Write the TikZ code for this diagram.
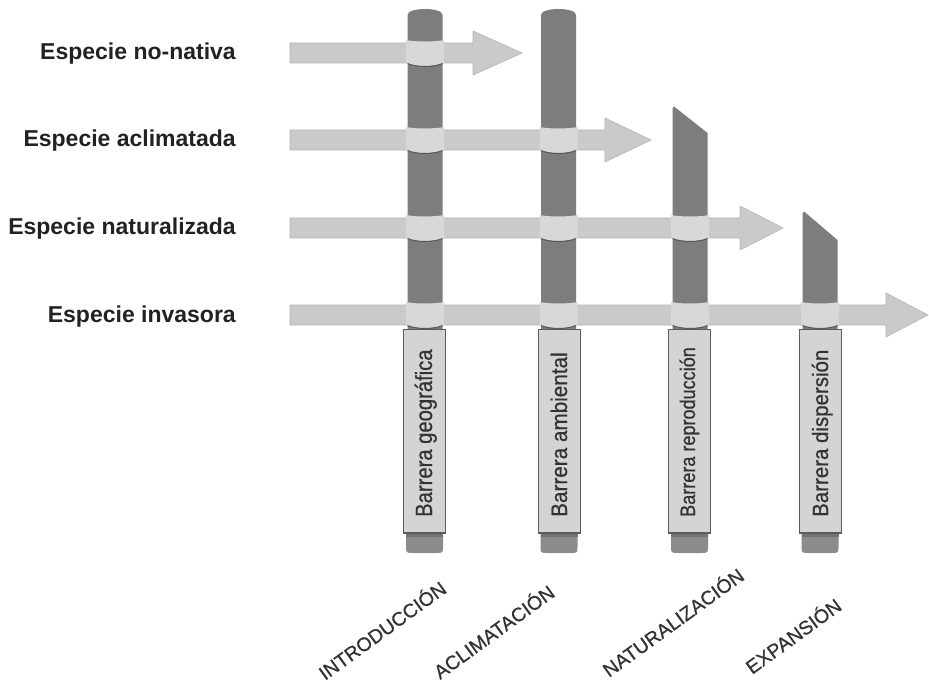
\documentclass[tikz,border=0pt]{standalone}
\usepackage{fontspec}
\setmainfont{Liberation Sans}
\newfontfamily\heavyreg[FakeBold=0.7]{Liberation Sans}
\definecolor{colc}{HTML}{7D7D7D}
\definecolor{shaftc}{HTML}{CACACA}
\definecolor{shaftd}{HTML}{B4B4B4}
\definecolor{bandc}{HTML}{D8D8D8}
\definecolor{boxc}{HTML}{D4D4D4}
\definecolor{edgec}{HTML}{5C5C5C}
\definecolor{capc}{HTML}{8C8C8C}
\definecolor{txtc}{HTML}{222222}
\definecolor{txtb}{HTML}{333333}
\newcommand\bandat[2]{%
  \fill[bandc] (#1-19,#2-13) .. controls (#1-10,#2-11) and (#1+10,#2-11) .. (#1+19,#2-13)
    -- (#1+19,#2+10) .. controls (#1+10,#2+14) and (#1-10,#2+14) .. (#1-19,#2+10) -- cycle;
  \draw[colc!70!black, line width=1pt] (#1-17.5,#2+10.5) .. controls (#1-9,#2+14.5) and (#1+9,#2+14.5) .. (#1+17.5,#2+10.5);
}
\newcommand\arrowrow[3]{%
  \filldraw[fill=shaftc, draw=shaftd, line width=0.6pt] (290,#1-10) -- (#2,#1-10) -- (#2,#1-22) -- (#3,#1) -- (#2,#1+22) -- (#2,#1+10) -- (290,#1+10) -- cycle;
}
\newcommand\boxcap[1]{%
  \filldraw[fill=boxc, draw=edgec, line width=0.8pt] (#1-21,329) rectangle (#1+21,533);
  \draw[edgec, line width=1.6pt] (#1-21,533) -- (#1+21,533);
  \fill[capc] (#1-18.5,534) -- (#1-18.5,546) .. controls (#1-18.5,553) .. (#1-11,553) -- (#1+11,553) .. controls (#1+18.5,553) .. (#1+18.5,546) -- (#1+18.5,534) -- cycle;
  \fill[black!55] (#1-18.5,534) rectangle (#1+18.5,537);
}
\tikzset{
  species/.style={anchor=base east, inner sep=0pt, font=\bfseries\fontsize{23}{23}\selectfont, text=txtc},
  barlabel/.style={anchor=base west, rotate=90, inner sep=0pt, text=txtb},
  stage/.style={anchor=base west, rotate=36, inner sep=0pt, font=\heavyreg\fontsize{19.5}{19.5}\selectfont, text=txtb}
}
\begin{document}
\begin{tikzpicture}[x=1pt,y=-1pt]
\useasboundingbox (0,0) rectangle (929,687);
\fill[white] (0,0) rectangle (929,687);
% columns
\fill[colc] (407.5,340) -- (407.5,15) .. controls (407.5,7) and (442.5,7) .. (442.5,15) -- (442.5,340) -- cycle;
\fill[colc] (541,340) -- (541,15) .. controls (541,7) and (576,7) .. (576,15) -- (576,340) -- cycle;
\fill[colc] (672.5,340) -- (672.5,108) -- (674,106.5) -- (707.5,133) -- (707.5,340) -- cycle;
\fill[colc] (802.5,340) -- (802.5,213) -- (804,211.5) -- (837.5,240) -- (837.5,340) -- cycle;
% label boxes and caps
\boxcap{424.5}
\boxcap{559}
\boxcap{689.5}
\boxcap{820}
% arrows
\arrowrow{53}{473}{522}
\arrowrow{140}{605}{651}
\arrowrow{228}{740}{783}
\arrowrow{315}{886}{928}
% crossing bands
\bandat{425}{53}
\bandat{425}{140}\bandat{558.5}{140}
\bandat{425}{228}\bandat{558.5}{228}\bandat{690}{228}
\bandat{425}{315}\bandat{558.5}{315}\bandat{690}{315}\bandat{820}{315}
% species labels
\node[species] (sp1) at (236,60) {Especie no-nativa};
\node[species] (sp2) at (236,147) {Especie aclimatada};
\node[species] (sp3) at (236,235) {Especie naturalizada};
\node[species] (sp4) at (236,322) {Especie invasora};
% barrier labels
\node[barlabel] (bar1) at (432,517) {\scalebox{0.86}[1]{\heavyreg\fontsize{23.5}{23.5}\selectfont Barrera geográfica}};
\node[barlabel] (bar2) at (567,517) {\scalebox{0.92}[1]{\heavyreg\fontsize{22.5}{22.5}\selectfont Barrera ambiental}};
\node[barlabel] (bar3) at (695,517) {\scalebox{0.86}[1]{\heavyreg\fontsize{21}{21}\selectfont Barrera reproducción}};
\node[barlabel] (bar4) at (828,517) {\scalebox{0.93}[1]{\heavyreg\fontsize{22}{22}\selectfont Barrera dispersión}};
% stage labels
\node[stage] (st1) at (325,681) {INTRODUCCIÓN};
\node[stage] (st2) at (440,680) {ACLIMATACIÓN};
\node[stage] (st3) at (609,678) {NATURALIZACIÓN};
\node[stage] (st4) at (752,675) {EXPANSIÓN};
\end{tikzpicture}
\end{document}
